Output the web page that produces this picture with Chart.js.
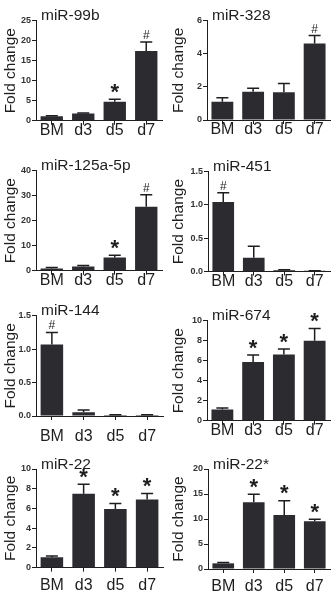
<!DOCTYPE html>
<html>
<head>
<meta charset="utf-8">
<script src="https://cdn.jsdelivr.net/npm/chart.js@4/dist/chart.umd.min.js"></script>
<style>
html,body{margin:0;padding:0;background:#fff;}
#wrap{position:relative;width:336px;height:606px;overflow:hidden;background:#fff;}
#wrap canvas{position:absolute;}
</style>
</head>
<body>
<div id="wrap"></div>
<script>
// ---------- DATA ----------
const categories = ['BM', 'd3', 'd5', 'd7'];
const titles = ['miR-99b', 'miR-328', 'miR-125a-5p', 'miR-451', 'miR-144', 'miR-674', 'miR-22', 'miR-22*'];

const mean99b   = [1.1, 1.8, 4.75, 17.4];
const sem99b    = [0.12, 0.12, 0.6, 2.3];
const mean328   = [1.1, 1.7, 1.68, 4.62];
const sem328    = [0.24, 0.22, 0.52, 0.48];
const mean125a  = [0.9, 1.7, 5.3, 25.6];
const sem125a   = [0.35, 0.35, 0.9, 4.8];
const mean451   = [1.045, 0.205, 0.02, 0.01];
const sem451    = [0.14, 0.175, 0.008, 0.003];
const mean144   = [1.07, 0.055, 0.015, 0.015];
const sem144    = [0.18, 0.035, 0.004, 0.004];
const mean674   = [1.13, 5.87, 6.63, 8.0];
const sem674    = [0.15, 0.7, 0.54, 1.23];
const mean22    = [1.05, 7.5, 5.95, 6.9];
const sem22     = [0.13, 0.95, 0.55, 0.62];
const mean22s   = [1.13, 13.33, 10.8, 9.53];
const sem22s    = [0.18, 1.6, 2.87, 0.4];

const marks99b  = ['', '', '*', '#'];
const marks328  = ['', '', '', '#'];
const marks125a = ['', '', '*', '#'];
const marks451  = ['#', '', '', ''];
const marks144  = ['#', '', '', ''];
const marks674  = ['', '*', '*', '*'];
const marks22   = ['', '*', '*', '*'];
const marks22s  = ['', '*', '*', '*'];

const yMax  = [25, 6, 40, 1.5, 1.5, 10, 10, 20];
const yStep = [5, 2, 10, 0.5, 0.5, 2, 2, 5];
const yDecimals = [0, 0, 0, 1, 1, 0, 0, 0];

const allMeans = [mean99b, mean328, mean125a, mean451, mean144, mean674, mean22, mean22s];
const allSems  = [sem99b, sem328, sem125a, sem451, sem144, sem674, sem22, sem22s];
const allMarks = [marks99b, marks328, marks125a, marks451, marks144, marks674, marks22, marks22s];

// ---------- LAYOUT (panel-local) ----------
const panelPos = [[0,0],[168,0],[0,150],[168,150],[0,300],[168,300],[0,450],[168,450]];
const panelH   = [150,150,150,150,150,150,156,156];
const areas = [
  {l:36, r:162, t:20.7, b:120.7, lp:-4},
  {l:39, r:162, t:20.7, b:120,   lp:-4},
  {l:36, r:162, t:20.7, b:120.7, lp:-4},
  {l:40, r:162, t:21.7, b:121.5, lp:-4},
  {l:36, r:163, t:15.7, b:116,   lp:7},
  {l:39, r:162, t:20.7, b:120.7, lp:-4},
  {l:36, r:163, t:19,   b:117.7, lp:4.5},
  {l:40, r:162, t:19,   b:119,   lp:4}
];

const FONT = '"Liberation Sans", Arial, Helvetica, sans-serif';
const INK = '#1e1e20';
const BAR = '#2b2b30';

const errPlugin = {
  id: 'errbars',
  afterDatasetsDraw(chart, args, opts) {
    const ctx = chart.ctx;
    const meta = chart.getDatasetMeta(0);
    const ys = chart.scales.y;
    const ca = chart.chartArea;
    ctx.save();
    ctx.strokeStyle = INK;
    ctx.lineWidth = 1.5;
    opts.means.forEach((m, i) => {
      const x = meta.data[i].x;
      const y0 = ys.getPixelForValue(m);
      const y1 = ys.getPixelForValue(m + opts.sems[i]);
      ctx.beginPath();
      ctx.moveTo(x, y0);
      ctx.lineTo(x, y1);
      ctx.moveTo(x - 6, y1);
      ctx.lineTo(x + 6, y1);
      ctx.stroke();
      const mk = opts.marks[i];
      if (mk) {
        ctx.fillStyle = INK;
        ctx.textAlign = 'center';
        ctx.textBaseline = 'alphabetic';
        if (mk === '*') {
          ctx.font = 'bold 22px ' + FONT;
          ctx.fillText(mk, x, y1 - 0.5);
        } else {
          ctx.font = '12px ' + FONT;
          ctx.fillText(mk, x, y1 - 3);
        }
      }
    });
    // panel title
    ctx.fillStyle = INK;
    ctx.font = '15.5px ' + FONT;
    ctx.textAlign = 'left';
    ctx.textBaseline = 'alphabetic';
    ctx.fillText(opts.title, ca.left + 5, ca.top - 0.5);
    ctx.restore();
  }
};

const wrap = document.getElementById('wrap');
for (let p = 0; p < 8; p++) {
  const W = 168, H = panelH[p], A = areas[p];
  const cv = document.createElement('canvas');
  cv.width = W; cv.height = H;
  cv.style.left = panelPos[p][0] + 'px';
  cv.style.top = panelPos[p][1] + 'px';
  cv.style.width = W + 'px'; cv.style.height = H + 'px';
  wrap.appendChild(cv);
  const dec = yDecimals[p];
  new Chart(cv, {
    type: 'bar',
    data: {
      labels: categories,
      datasets: [{
        data: allMeans[p],
        backgroundColor: BAR,
        borderWidth: 0,
        barPercentage: 0.71,
        categoryPercentage: 1
      }]
    },
    options: {
      responsive: false,
      animation: false,
      devicePixelRatio: 1,
      layout: { padding: { top: A.t, right: W - A.r, bottom: 0, left: 0 } },
      plugins: {
        legend: { display: false },
        tooltip: { enabled: false },
        errbars: { means: allMeans[p], sems: allSems[p], marks: allMarks[p], title: titles[p] }
      },
      scales: {
        x: {
          offset: true,
          grid: { display: true, drawOnChartArea: false, drawTicks: true, tickLength: 4, color: INK, lineWidth: 1, offset: false },
          border: { display: true, color: INK, width: 1 },
          ticks: { font: { family: FONT, size: 16 }, color: INK, padding: A.lp, maxRotation: 0, autoSkip: false },
          afterFit(s) { s.height = H - A.b; }
        },
        y: {
          min: 0, max: yMax[p],
          grid: { display: true, drawOnChartArea: false, drawTicks: true, tickLength: 4, color: INK, lineWidth: 1 },
          border: { display: true, color: INK, width: 1 },
          ticks: {
            stepSize: yStep[p],
            font: { family: FONT, size: 9, weight: 'bold' },
            color: '#333',
            padding: 1,
            callback: v => Number(v).toFixed(dec)
          },
          title: { display: true, text: 'Fold change', font: { family: FONT, size: 15.5 }, color: INK, padding: { top: 1, bottom: 0 } },
          afterFit(s) { s.width = A.l; }
        }
      }
    },
    plugins: [errPlugin]
  });
}
</script>
</body>
</html>
